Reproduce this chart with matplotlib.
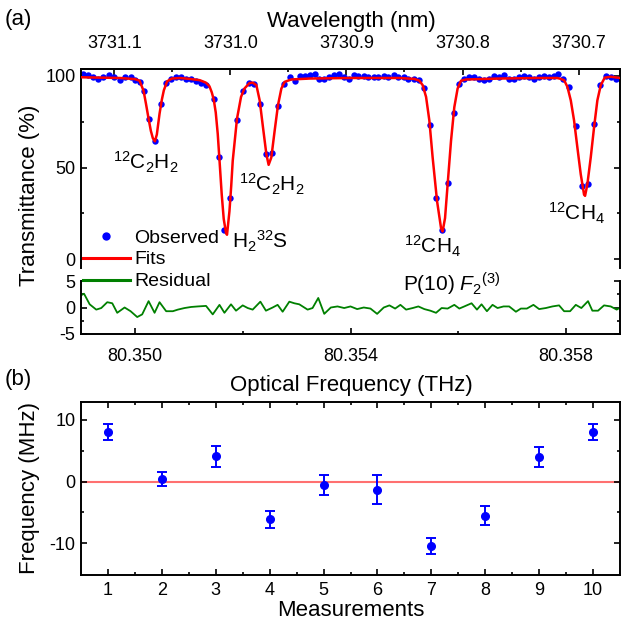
import numpy as np
import matplotlib

matplotlib.use("Agg")

import matplotlib.pyplot as plt
from matplotlib.lines import Line2D
from matplotlib.ticker import FormatStrFormatter

plt.rcParams["font.family"] = ["Liberation Sans", "DejaVu Sans"]
plt.rcParams["mathtext.fontset"] = "custom"
plt.rcParams["mathtext.rm"] = "Liberation Sans"
plt.rcParams["mathtext.it"] = "Liberation Sans:italic"
plt.rcParams["axes.unicode_minus"] = False

NU0 = 80.349  # THz, start of the scan
C_NM_THZ = 299792.458

# spectrum, x given as detuning in GHz from NU0
obs_ghz = [0.037, 0.130, 0.222, 0.315, 0.407, 0.513, 0.611, 0.717, 0.820, 0.920,
           1.006, 1.087, 1.161, 1.259, 1.376, 1.487, 1.569, 1.661, 1.765, 1.857,
           1.950, 2.043, 2.135, 2.228, 2.320, 2.463, 2.569, 2.661, 2.772, 2.894,
           3.000, 3.111, 3.213, 3.315, 3.426, 3.537, 3.654, 3.759, 3.870, 3.963,
           4.056, 4.148, 4.241, 4.333, 4.407, 4.500, 4.593, 4.691, 4.778, 4.876,
           4.963, 5.061, 5.148, 5.246, 5.333, 5.431, 5.519, 5.617, 5.704, 5.802,
           5.889, 5.987, 6.074, 6.172, 6.269, 6.370, 6.472, 6.587, 6.698, 6.802,
           6.911, 7.011, 7.111, 7.204, 7.296, 7.389, 7.481, 7.574, 7.667, 7.759,
           7.852, 7.944, 8.037, 8.130, 8.222, 8.315, 8.407, 8.500, 8.593, 8.685,
           8.778, 8.857, 8.935, 9.056, 9.191, 9.287, 9.407, 9.519, 9.624, 9.731,
           9.828, 9.920]
obs_trans = [101.0, 100.4, 99.1, 98.5, 99.5, 100.4, 99.5, 97.6, 99.5, 99.1,
             97.6, 96.7, 91.8, 76.6, 64.7, 84.4, 96.2, 98.5, 99.1, 99.1,
             98.5, 98.0, 97.3, 96.2, 94.9, 87.5, 56.0, 16.1, 33.2, 76.0,
             91.8, 96.2, 95.6, 84.8, 57.3, 57.7, 83.3, 95.4, 99.1, 97.3,
             99.8, 99.8, 100.4, 100.9, 98.0, 98.5, 99.5, 100.4, 100.9, 99.1,
             98.0, 100.4, 99.8, 99.8, 99.5, 99.1, 99.5, 99.8, 99.1, 100.4,
             99.5, 99.1, 98.5, 98.5, 97.5, 93.4, 73.2, 33.5, 15.9, 41.8,
             80.0, 95.7, 98.5, 99.1, 99.5, 98.5, 97.6, 98.0, 99.8, 99.5,
             100.4, 98.0, 98.0, 99.1, 99.8, 99.5, 98.5, 99.5, 99.8, 99.1,
             99.8, 101.2, 98.2, 93.8, 72.5, 39.9, 41.2, 73.5, 94.8, 100.0,
             99.1, 98.5]

fit_ghz = [0.000, 0.352, 0.722, 1.000, 1.087, 1.161, 1.204, 1.254, 1.296, 1.333,
           1.370, 1.407, 1.457, 1.500, 1.537, 1.598, 1.685, 1.833, 2.019, 2.204,
           2.315, 2.383, 2.426, 2.463, 2.500, 2.537, 2.574, 2.611, 2.648, 2.691,
           2.709, 2.754, 2.787, 2.815, 2.894, 2.969, 3.031, 3.124, 3.185, 3.254,
           3.315, 3.376, 3.439, 3.481, 3.531, 3.593, 3.654, 3.717, 3.778, 3.902,
           4.241, 4.981, 5.907, 6.185, 6.278, 6.339, 6.402, 6.463, 6.524, 6.606,
           6.680, 6.709, 6.754, 6.802, 6.865, 6.926, 6.987, 7.050, 7.143, 7.759,
           8.500, 8.833, 8.902, 8.963, 9.024, 9.087, 9.148, 9.209, 9.272, 9.333,
           9.352, 9.394, 9.457, 9.519, 9.580, 9.643, 9.717, 9.828, 10.000]
fit_trans = [99.2, 99.0, 98.8, 98.2, 97.3, 91.8, 85.0, 76.6, 70.0, 66.0,
             64.3, 68.0, 79.3, 87.0, 92.1, 97.0, 98.5, 98.8, 98.3, 97.6,
             96.3, 94.3, 91.0, 87.0, 80.0, 68.3, 52.0, 35.3, 22.0, 14.3,
             13.4, 26.2, 40.0, 53.7, 76.6, 88.5, 93.0, 96.0, 96.3, 94.9,
             86.6, 72.0, 57.3, 51.5, 55.5, 70.1, 83.9, 93.0, 96.7, 98.0,
             98.5, 98.8, 98.8, 98.3, 97.3, 94.9, 88.5, 75.6, 55.5, 31.7,
             17.0, 15.2, 22.5, 40.8, 64.6, 82.9, 93.0, 97.3, 98.0, 98.5,
             98.8, 98.8, 98.3, 97.6, 94.0, 86.6, 75.6, 61.0, 46.3, 35.3,
             34.6, 40.8, 55.5, 72.0, 86.6, 94.9, 99.0, 99.5, 98.8]

res_ghz = [0.000, 0.056, 0.161, 0.283, 0.376, 0.487, 0.580, 0.672, 0.809, 0.920,
           1.043, 1.135, 1.254, 1.365, 1.457, 1.580, 1.704, 1.796, 1.920, 2.043,
           2.167, 2.320, 2.444, 2.569, 2.661, 2.783, 2.876, 3.000, 3.093, 3.185,
           3.328, 3.431, 3.556, 3.648, 3.741, 3.865, 3.957, 4.050, 4.204, 4.296,
           4.402, 4.513, 4.635, 4.759, 4.883, 5.000, 5.124, 5.246, 5.370, 5.494,
           5.617, 5.722, 5.828, 5.926, 6.031, 6.154, 6.259, 6.370, 6.481, 6.587,
           6.691, 6.802, 6.926, 7.019, 7.111, 7.246, 7.346, 7.431, 7.531, 7.635,
           7.728, 7.839, 7.944, 8.069, 8.161, 8.272, 8.394, 8.500, 8.624, 8.746,
           8.870, 8.963, 9.074, 9.180, 9.283, 9.407, 9.487, 9.593, 9.704, 9.828,
           9.939, 9.987]
res_val = [2.3, 2.6, 0.6, -0.4, -0.1, 1.0, 0.8, -1.0, 0.0, -0.7,
           -1.8, -1.3, 1.2, -1.0, 1.0, -0.7, -0.7, -0.4, -0.1, 0.1,
           0.2, 0.3, -1.3, 0.5, -1.0, 0.6, -0.6, 0.4, -0.1, -0.4,
           1.1, -0.6, 0.0, 0.5, -0.8, 1.1, 0.8, 0.6, -0.4, -0.1,
           1.8, -1.2, 0.0, 0.2, -0.1, 0.2, -0.3, 0.0, -0.2, -1.2,
           0.0, 0.4, -0.2, 0.5, -0.4, -0.1, 0.2, -0.3, -0.6, -1.0,
           -0.1, -0.2, 0.5, -0.2, 0.2, 0.8, -0.4, 0.6, -0.7, 0.5,
           -0.1, 0.2, 0.2, -0.8, -0.2, -0.2, 0.5, -0.3, -0.1, 0.2,
           0.4, -0.7, -0.7, 0.5, -0.1, 1.2, -0.6, -0.6, 0.4, 0.2,
           -0.4, -0.1]

wl_major = [3731.1, 3731.0, 3730.9, 3730.8, 3730.7]
wl_minor = [3731.05, 3730.95, 3730.85, 3730.75]

# panel (b)
measurements = [1, 2, 3, 4, 5, 6, 7, 8, 9, 10]
freq_dev = [8.0, 0.4, 4.1, -6.1, -0.6, -1.3, -10.4, -5.5, 3.9, 8.0]
freq_err = [1.3, 1.2, 1.7, 1.4, 1.6, 2.4, 1.3, 1.5, 1.6, 1.25]

nu_obs = NU0 + np.array(obs_ghz) / 1000
nu_fit = NU0 + np.array(fit_ghz) / 1000
nu_res = NU0 + np.array(res_ghz) / 1000

W, H = 621, 627
fig = plt.figure(figsize=(W / 100, H / 100), dpi=100)


def box(x0, y0, x1, y1):
    # pixel box (top-left origin) -> figure fraction rect
    return [x0 / W, 1 - y1 / H, (x1 - x0) / W, (y1 - y0) / H]


def style(ax):
    for s in ax.spines.values():
        s.set_linewidth(1.4)
    ax.tick_params(which="both", direction="in", width=1.2, labelsize=13)
    ax.tick_params(which="major", length=4.5)
    ax.tick_params(which="minor", length=2.5)


ax_t = fig.add_axes(box(81, 69, 620, 268))
ax_r = fig.add_axes(box(81, 281, 620, 334), sharex=ax_t)
ax_b = fig.add_axes(box(81, 402, 620, 575))

# transmittance panel
ax_t.plot(nu_obs, obs_trans, "o", color="#0000ff", ms=4.6, mec="none", zorder=2)
ax_t.plot(nu_fit, fit_trans, color="#ff0000", lw=1.8, zorder=3)
ax_t.set_xlim(80.349, 80.359)
ax_t.set_ylim(-4.7, 103.7)
ax_t.set_yticks([0, 50, 100])
ax_t.set_yticks([25, 75], minor=True)
style(ax_t)
ax_t.spines["bottom"].set_visible(False)
ax_t.tick_params(axis="y", which="both", left=True, right=True, pad=4)
ax_t.tick_params(axis="x", which="both", bottom=False, top=False, labelbottom=False)


def thz_to_nm(x):
    x = np.asarray(x, dtype=float)
    with np.errstate(divide="ignore"):
        return np.where(x == 0, np.inf, C_NM_THZ / np.where(x == 0, 1, x))


sec = ax_t.secondary_xaxis("top", functions=(thz_to_nm, thz_to_nm))
sec.set_xticks(wl_major)
sec.set_xticklabels([f"{w:.1f}" for w in wl_major])
sec.set_xticks(wl_minor, minor=True)
sec.spines["top"].set_linewidth(1.4)
sec.tick_params(which="both", direction="in", width=1.2, labelsize=13, pad=12)
sec.tick_params(which="major", length=4.5)
sec.tick_params(which="minor", length=2.5)

labels_t = [
    (80.350204, 53.0, r"$^{12}$C$_2$H$_2$"),
    (80.352315, 9.7, r"H$_2$$^{32}$S"),
    (80.352537, 40.6, r"$^{12}$C$_2$H$_2$"),
    (80.355519, 6.9, r"$^{12}$CH$_4$"),
    (80.358185, 25.3, r"$^{12}$CH$_4$"),
]
for x, y, s in labels_t:
    ax_t.text(x, y, s, fontsize=15, ha="center", va="center")

# residual panel
ax_r.plot(nu_res, res_val, color="#008000", lw=1.3)
ax_r.set_ylim(-5, 5)
ax_r.set_yticks([-5, 0, 5])
ax_r.set_yticks([-2.5, 2.5], minor=True)
style(ax_r)
ax_r.spines["top"].set_visible(False)
ax_r.tick_params(axis="y", which="both", left=True, right=True, pad=4)
ax_r.set_xticks([80.350, 80.354, 80.358])
ax_r.set_xticks([80.352, 80.356], minor=True)
ax_r.xaxis.set_major_formatter(FormatStrFormatter("%.3f"))
ax_r.tick_params(axis="x", which="both", bottom=True, top=False, pad=10)
ax_r.text(80.35587, 4.3, r"P(10) $\mathit{F_{2}{}^{(3)}}$", fontsize=15,
          ha="center", va="center")

# panel (b)
ax_b.axhline(0, color="#ff7070", lw=1.5, zorder=1)
ax_b.errorbar(measurements, freq_dev, yerr=freq_err, fmt="o", color="#0000ff",
              ms=5.5, elinewidth=1.4, capsize=3.3, capthick=1.4, zorder=3)
ax_b.set_xlim(0.5, 10.5)
ax_b.set_ylim(-15.1, 12.85)
ax_b.set_xticks(measurements)
ax_b.set_xticks([m + 0.5 for m in measurements[:-1]], minor=True)
ax_b.set_yticks([-10, 0, 10])
ax_b.set_yticks([-5, 5], minor=True)
style(ax_b)
ax_b.tick_params(which="both", top=True, right=True)
ax_b.tick_params(axis="x", pad=5)
ax_b.tick_params(axis="y", pad=4)

# legend spanning the two upper panels
handles = [
    Line2D([], [], ls="none", marker="o", color="#0000ff", ms=6, mec="none"),
    Line2D([], [], color="#ff0000", lw=2.2),
    Line2D([], [], color="#008000", lw=2.2),
]
fig.legend(handles, ["Observed", "Fits", "Residual"], loc="upper left",
           bbox_to_anchor=(83 / W, 1 - 229 / H), frameon=False, fontsize=14,
           handlelength=2.4, handletextpad=0.25, labelspacing=0.22,
           borderpad=0, borderaxespad=0)

# figure labels
fig.text(18 / W, 1 - 20 / H, "(a)", fontsize=16, ha="center", va="center")
fig.text(351 / W, 1 - 22 / H, "Wavelength (nm)", fontsize=16, ha="center", va="center")
fig.text(30 / W, 1 - 195 / H, "Transmittance (%)", fontsize=16, rotation=90,
         ha="center", va="center")
fig.text(18 / W, 1 - 380 / H, "(b)", fontsize=16, ha="center", va="center")
fig.text(351 / W, 1 - 386 / H, "Optical Frequency (THz)", fontsize=16,
         ha="center", va="center")
fig.text(30 / W, 1 - 488 / H, "Frequency (MHz)", fontsize=16, rotation=90,
         ha="center", va="center")
fig.text(351 / W, 1 - 611 / H, "Measurements", fontsize=16, ha="center", va="center")

fig.savefig("out.png", dpi=100)
plt.close(fig)
